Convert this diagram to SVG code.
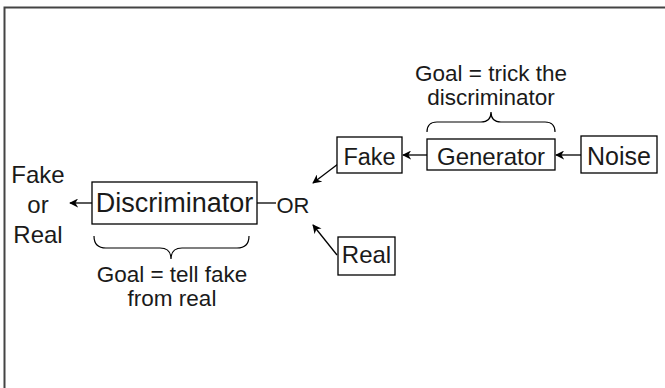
<svg xmlns="http://www.w3.org/2000/svg" width="665" height="388" viewBox="0 0 665 388">
<style>
  .box { fill: #fff; stroke: #000; stroke-width: 1.3; }
  .t { font-family: "Liberation Sans", Arial, sans-serif; fill: #1a1a1a; text-anchor: middle; }
  .edge { fill: none; stroke: #000; stroke-width: 1.3; }
  .brace { fill: none; stroke: #000; stroke-width: 1.2; }
</style>
<defs>
  <marker id="ah" viewBox="0 0 10 10" refX="9" refY="5" markerWidth="9" markerHeight="9" markerUnits="userSpaceOnUse" orient="auto">
    <path d="M0,0 L10,5 L0,10 L3,5 Z" fill="#000"/>
  </marker>
</defs>
<rect width="665" height="388" fill="#fff"/>
<path d="M4.5,388 L4.5,7.5 L665,7.5" fill="none" stroke="#444" stroke-width="2"/>

<g id="connectors">
  <line class="edge" x1="92" y1="203" x2="70" y2="203" marker-end="url(#ah)"/>
  <line class="edge" x1="257" y1="203" x2="276" y2="203"/>
  <line class="edge" x1="581" y1="155" x2="556" y2="155" marker-end="url(#ah)"/>
  <line class="edge" x1="427" y1="155" x2="403" y2="155" marker-end="url(#ah)"/>
  <line class="edge" x1="338" y1="164" x2="313" y2="183" marker-end="url(#ah)"/>
  <line class="edge" x1="337" y1="255" x2="313" y2="225" marker-end="url(#ah)"/>
</g>

<g id="output">
  <text class="t" x="38" y="183" font-size="24">Fake</text>
  <text class="t" x="38" y="213" font-size="24">or</text>
  <text class="t" x="38" y="243" font-size="24">Real</text>
</g>

<g id="discriminator">
  <rect class="box" x="92" y="182" width="165" height="42"/>
  <text class="t" x="174.5" y="212" font-size="27">Discriminator</text>
</g>

<g id="or">
  <text class="t" x="293" y="213" font-size="22">OR</text>
</g>

<g id="fake">
  <rect class="box" x="337" y="137" width="65" height="36"/>
  <text class="t" x="369.5" y="165" font-size="23.5">Fake</text>
</g>

<g id="real">
  <rect class="box" x="338" y="237" width="57" height="38"/>
  <text class="t" x="366.5" y="263" font-size="24">Real</text>
</g>

<g id="generator">
  <rect class="box" x="427" y="139" width="128" height="31"/>
  <text class="t" x="491" y="165" font-size="24">Generator</text>
</g>

<g id="noise">
  <rect class="box" x="581" y="136" width="76" height="37"/>
  <text class="t" x="619" y="165" font-size="25">Noise</text>
</g>

<g id="goal-discriminator">
  <path class="brace" d="M94,236 Q94,248 106,248 L160,248 Q171,248 171,259 Q171,248 182,248 L237,248 Q249,248 249,236"/>
  <text class="t" x="172" y="282" font-size="22.5">Goal = tell fake</text>
  <text class="t" x="172" y="306" font-size="22.5">from real</text>
</g>

<g id="goal-generator">
  <path class="brace" d="M427,132 Q427,122 437,122 L481,122 Q491,122 491,112 Q491,122 501,122 L545,122 Q555,122 555,132"/>
  <text class="t" x="491" y="81" font-size="22.5">Goal = trick the</text>
  <text class="t" x="491" y="105" font-size="22.5">discriminator</text>
</g>
</svg>
